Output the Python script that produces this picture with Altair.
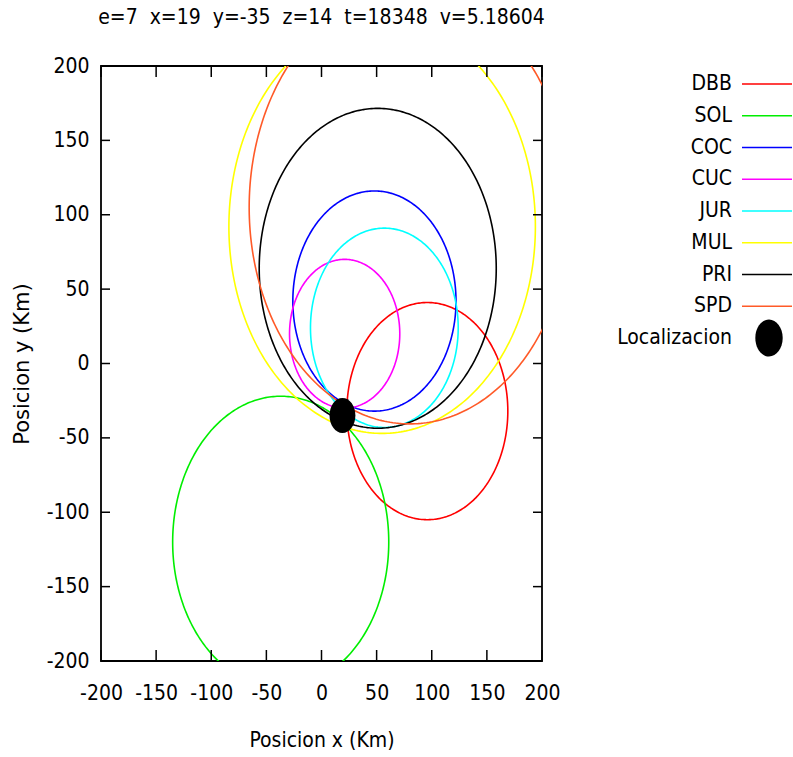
import altair as alt
import numpy as np
import pandas as pd

# ---- data ----
stations = ["DBB", "SOL", "COC", "CUC", "JUR", "MUL", "PRI", "SPD"]
center_x = [96, -37, 48, 21, 57, 55, 51, 80]
center_y = [-32, -120, 42, 20, 24, 92, 64, 105]
radius = [73, 98, 74, 50, 67, 139, 107.5, 145.6]
colors = ["#ff0000", "#00ee00", "#0000ff", "#ff00ff", "#00ffff", "#ffff00", "#000000", "#ff5a28"]

loc_label = "Localizacion"
loc_x = [19]
loc_y = [-35]

tick_values = [-200, -150, -100, -50, 0, 50, 100, 150, 200]
title_text = "e=7\u00a0\u00a0x=19\u00a0\u00a0y=-35\u00a0\u00a0z=14\u00a0\u00a0t=18348\u00a0\u00a0v=5.18604"

FONT = "DejaVu Sans Condensed, Liberation Sans Narrow, DejaVu Sans"
FS = 21
W, H = 441, 595

# ---- build circle outlines from centre / radius ----
ang = np.linspace(0, 2 * np.pi, 361)
rows = []
for s, cx, cy, r in zip(stations, center_x, center_y, radius):
    for i, a in enumerate(ang):
        rows.append({"station": s, "i": i, "x": cx + r * np.cos(a), "y": cy + r * np.sin(a)})
circles_df = pd.DataFrame(rows)
loc_df = pd.DataFrame({"x": loc_x, "y": loc_y})
xt_df = pd.DataFrame({"x": tick_values})
yt_df = pd.DataFrame({"y": tick_values})

xscale = alt.Scale(domain=[-200, 200], nice=False, zero=False)
yscale = alt.Scale(domain=[-200, 200], nice=False, zero=False)
xaxis = alt.Axis(values=tick_values, title="Posicion x (Km)", grid=False, ticks=False, tickSize=0,
                 domain=False, labelFontSize=FS, labelFont=FONT, labelPadding=21, labelColor="#000",
                 labelExpr="toString(datum.value)",
                 titleFontSize=FS, titleFont=FONT, titleFontWeight="normal", titlePadding=26,
                 titleColor="#000", labelFlush=False)
yaxis = alt.Axis(values=tick_values, title="Posicion y (Km)", grid=False, ticks=False, tickSize=0,
                 domain=False, labelFontSize=FS, labelFont=FONT, labelPadding=12, labelColor="#000",
                 labelExpr="toString(datum.value)",
                 titleFontSize=21, titleFont="DejaVu Sans", titleFontWeight="normal",
                 titleX=-79, titleY=H / 2, titleAngle=270, titleAlign="center", titleBaseline="middle",
                 titleColor="#000", labelFlush=False)
color_scale = alt.Scale(domain=stations, range=colors)

X = alt.X("x:Q", scale=xscale, axis=xaxis)
Y = alt.Y("y:Q", scale=yscale, axis=yaxis)

circles = alt.Chart(circles_df).mark_line(strokeWidth=1.6, clip=True).encode(
    x=X, y=Y,
    color=alt.Color("station:N", scale=color_scale, legend=None),
    detail="station:N",
    order="i:Q",
)

ellipse_path = "M0,-1A0.74,1 0 1,1 0,1A0.74,1 0 1,1 0,-1Z"
dot = alt.Chart(loc_df).mark_point(shape=ellipse_path, size=1225, filled=True,
                                    color="#000", opacity=1).encode(x=X, y=Y)

tick_style = dict(color="#000", strokeWidth=1.5)
bt = alt.Chart(xt_df).mark_rule(**tick_style).encode(x=X, y=alt.value(H), y2=alt.value(H - 11))
tt = alt.Chart(xt_df).mark_rule(**tick_style).encode(x=X, y=alt.value(0), y2=alt.value(11))
lt = alt.Chart(yt_df).mark_rule(**tick_style).encode(y=Y, x=alt.value(0), x2=alt.value(9))
rt = alt.Chart(yt_df).mark_rule(**tick_style).encode(y=Y, x=alt.value(W), x2=alt.value(W - 9))

main = alt.layer(circles, dot, bt, tt, lt, rt)

# ---- legend (labels left of samples, gnuplot style) ----
leg_labels = stations + [loc_label]
leg_y = alt.Y("label:N", sort=leg_labels,
              scale=alt.Scale(type="point", domain=leg_labels, range=[18, 272], padding=0),
              axis=None)
leg_text = alt.Chart(pd.DataFrame({"label": leg_labels})).mark_text(
    align="right", baseline="middle", fontSize=FS, font=FONT, color="#000"
).encode(y=leg_y, x=alt.value(631), text="label:N")
leg_lines = alt.Chart(pd.DataFrame({"label": stations})).mark_rule(strokeWidth=1.6).encode(
    y=leg_y, x=alt.value(641), x2=alt.value(691),
    color=alt.Color("label:N", scale=color_scale, legend=None),
)
leg_dot = alt.Chart(pd.DataFrame({"label": [loc_label]})).mark_point(
    shape=ellipse_path, size=1369, filled=True, color="#000", opacity=1
).encode(y=leg_y, x=alt.value(668))
legend = alt.layer(leg_text, leg_lines, leg_dot)

chart = alt.layer(main, legend).resolve_scale(y="independent").properties(
    width=W, height=H,
    background="white",
    title=alt.TitleParams(title_text, fontSize=FS, font=FONT, fontWeight="normal", anchor="middle",
                          frame="group", offset=27, color="#000"),
    autosize=alt.AutoSizeParams(type="none"),
    padding={"left": 101, "top": 66, "right": 251, "bottom": 96},
).configure_view(stroke="#000", strokeWidth=1.8)

chart.save("out.html", embed_options={"renderer": "svg", "actions": False})
